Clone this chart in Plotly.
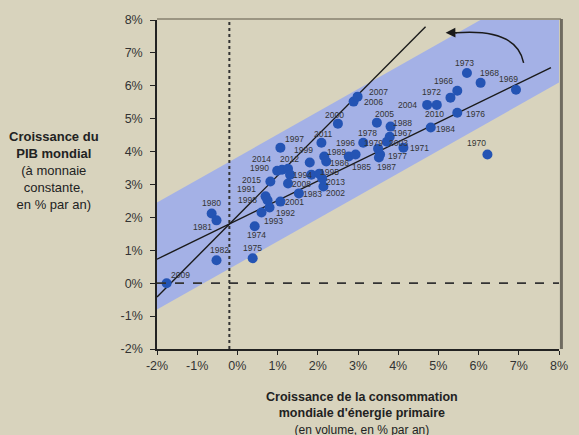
import plotly.graph_objects as go

# Energy growth (x, % per year) vs world GDP growth (y, % per year), one point per year
years = ["2009", "1982", "1980", "1981", "1975", "1974", "1993", "1992", "2001", "1991",
         "1998", "2015", "1990", "2014", "2012", "1997", "1999", "1994", "", "2008",
         "1983", "2002", "2013", "2011", "1989", "1986", "1996", "1985", "1978", "1979",
         "2003", "1967", "1977", "1987", "1971", "1988", "2005", "2000", "2006", "2007",
         "2004", "2010", "1972", "1966", "1973", "1968", "1969", "1976", "1984", "1970",
         "1995"]
energy = [-1.76, -0.52, -0.64, -0.52, 0.38, 0.43, 0.60, 0.80, 1.07, 0.70,
          0.75, 0.82, 0.99, 1.11, 1.26, 1.07, 1.80, 1.31, 1.84, 1.26,
          1.53, 2.14, 2.11, 2.09, 2.16, 2.21, 2.77, 2.94, 3.13, 3.50,
          3.72, 3.79, 3.55, 3.52, 4.13, 3.81, 3.47, 2.50, 2.89, 2.99,
          4.72, 4.96, 5.30, 5.47, 5.71, 6.05, 6.93, 5.47, 4.81, 6.22,
          2.04]
gdp = [0.00, 0.70, 2.12, 1.91, 0.76, 1.73, 2.15, 2.30, 2.48, 2.64,
       2.52, 3.09, 3.42, 3.45, 3.48, 4.12, 3.67, 3.30, 3.30, 3.03,
       2.73, 2.94, 3.18, 4.27, 3.85, 3.70, 3.85, 3.91, 4.27, 4.09,
       4.30, 4.45, 3.91, 3.82, 4.12, 4.76, 4.88, 4.85, 5.52, 5.67,
       5.42, 5.42, 5.64, 5.85, 6.39, 6.09, 5.88, 5.18, 4.73, 3.91,
       3.33]
# Label offsets from each point, in pixels (right, up)
label_dx = [14, 3, 0, -14, 0, 2, 12, 16, 14, -19,
            -20, -19, -18, -21, 1, 14, -6, 12, 0, 13,
            14, 12, 13, 2, 12, 13, -3, 6, 4, -5,
            12, 13, 17, 8, 16, 12, 8, -3, 20, 21,
            -20, -2, -19, -14, -2, 9, -7, 18, 15, -11,
            10]
label_dy = [8, 10, 10, -7, 10, -9, -9, -5, 0, 7,
            0, 2, 3, 11, 10, 9, 12, 0, 0, 0,
            -1, -7, -3, 9, 5, -2, 14, -12, 10, 6,
            -1, 4, -1, -9, 0, 4, 9, 9, 0, 5,
            0, -9, 6, 10, 10, 10, 11, -1, -1, 12,
            2]

# Axis ranges and ticks
x_range = [-2, 8]
y_range = [-2, 8]
x_ticks = list(range(-2, 9))
y_ticks = list(range(-2, 9))

# Band around the trend: two parallel lines y = a + b*x
band_slope = 0.69
band_low_intercept = 0.58
band_high_intercept = 3.83

# Two fitted lines: (x start, y start, slope, x end)
fit_flat = (-2.0, 0.73, 0.594, 7.8)
fit_steep = (-2.0, -0.42, 1.23, 4.68)

# Reference lines
x_ref = -0.2
y_ref = 0.0

BG = "#d8d3bd"
BAND = "#a4b1e6"
DOT = "#2454b4"
TXT = "#333333"
FONT = "Liberation Sans, Arial, sans-serif"

fig = go.Figure()

# Band polygon (clipped by the plot area)
bx = [x_range[0], x_range[1], x_range[1], x_range[0], x_range[0]]
by = [band_low_intercept + band_slope * bx[0],
      band_low_intercept + band_slope * bx[1],
      band_high_intercept + band_slope * bx[2],
      band_high_intercept + band_slope * bx[3],
      band_low_intercept + band_slope * bx[4]]
fig.add_trace(go.Scatter(x=bx, y=by, mode="lines", fill="toself", fillcolor=BAND,
                         line=dict(width=0), hoverinfo="skip", showlegend=False))

# Fitted lines
for x0, y0, slope, x1 in (fit_flat, fit_steep):
    fig.add_trace(go.Scatter(x=[x0, x1], y=[y0, y0 + slope * (x1 - x0)], mode="lines",
                             line=dict(color="#1a1a1a", width=1.4),
                             hoverinfo="skip", showlegend=False, cliponaxis=False))

# Year points
fig.add_trace(go.Scatter(
    x=energy, y=gdp, mode="markers",
    marker=dict(color=DOT, size=10, line=dict(width=0)),
    showlegend=False, cliponaxis=False))

# Year labels
for yr, xv, yv, dx, dy in zip(years, energy, gdp, label_dx, label_dy):
    if yr:
        fig.add_annotation(x=xv, y=yv, xref="x", yref="y", text=yr, showarrow=False,
                           xshift=dx, yshift=dy, xanchor="center", yanchor="middle",
                           font=dict(family=FONT, size=8.5, color=TXT))

# Dashed reference lines
fig.add_shape(type="line", x0=x_ref, x1=x_ref, y0=y_range[0], y1=y_range[1],
              xref="x", yref="y", line=dict(color="#333333", width=2, dash="dot"))
fig.add_shape(type="line", x0=x_range[0], x1=x_range[1], y0=y_ref, y1=y_ref,
              xref="x", yref="y", line=dict(color="#333333", width=1.8, dash="dash"))

# Curved arrow in the upper right
fig.add_shape(type="path", path="M 7.12,6.70 Q 6.95,7.76 5.42,7.61",
              xref="x", yref="y", line=dict(color="#1a1a1a", width=1.5))
fig.add_annotation(x=5.18, y=7.61, ax=5.5, ay=7.615, xref="x", yref="y",
                   axref="x", ayref="y", text="", showarrow=True,
                   arrowhead=2, arrowsize=1.3, arrowwidth=1.5, arrowcolor="#1a1a1a")

# Frame: top and right borders
fig.add_shape(type="line", xref="paper", yref="paper", x0=0, x1=1.005, y0=1.003, y1=1.003,
              line=dict(color="#9b9582", width=2))
fig.add_shape(type="line", xref="paper", yref="paper", x0=1.006, x1=1.006, y0=0, y1=1.003,
              line=dict(color="#6f6b60", width=3))

# Axis titles
fig.add_annotation(xref="paper", yref="paper", x=-0.255, y=0.675, xanchor="center", yanchor="top",
                   showarrow=False, align="center",
                   text="<b>Croissance du</b><br><b>PIB mondial</b><br>(à monnaie<br>constante,<br>en % par an)",
                   font=dict(family=FONT, size=13, color="#222222"))
fig.add_annotation(xref="paper", yref="paper", x=0.51, y=-0.12, xanchor="center", yanchor="top",
                   showarrow=False, align="center",
                   text="<b>Croissance de la consommation</b><br><b>mondiale d'énergie primaire</b><br>"
                        "<span style='font-size:12px'>(en volume, en % par an)</span>",
                   font=dict(family=FONT, size=12.5, color="#222222"))

fig.update_xaxes(range=x_range, tickvals=x_ticks, ticktext=[f"{t}%" for t in x_ticks],
                 showgrid=False, zeroline=False, showline=True, linecolor="#222222",
                 linewidth=1.5, ticks="outside", ticklen=4, tickcolor="#222222",
                 tickfont=dict(family=FONT, size=12.5, color=TXT))
fig.update_yaxes(range=y_range, tickvals=y_ticks, ticktext=[f"{t}%" for t in y_ticks],
                 showgrid=False, zeroline=False, showline=True, linecolor="#222222",
                 linewidth=1.5, ticks="outside", ticklen=5, tickcolor="#222222",
                 ticklabelstandoff=5,
                 tickfont=dict(family=FONT, size=12.5, color=TXT))

fig.update_layout(width=579, height=435, paper_bgcolor=BG, plot_bgcolor=BG,
                  margin=dict(l=157, r=11, t=20, b=86), showlegend=False)

fig.write_html("out.html")
